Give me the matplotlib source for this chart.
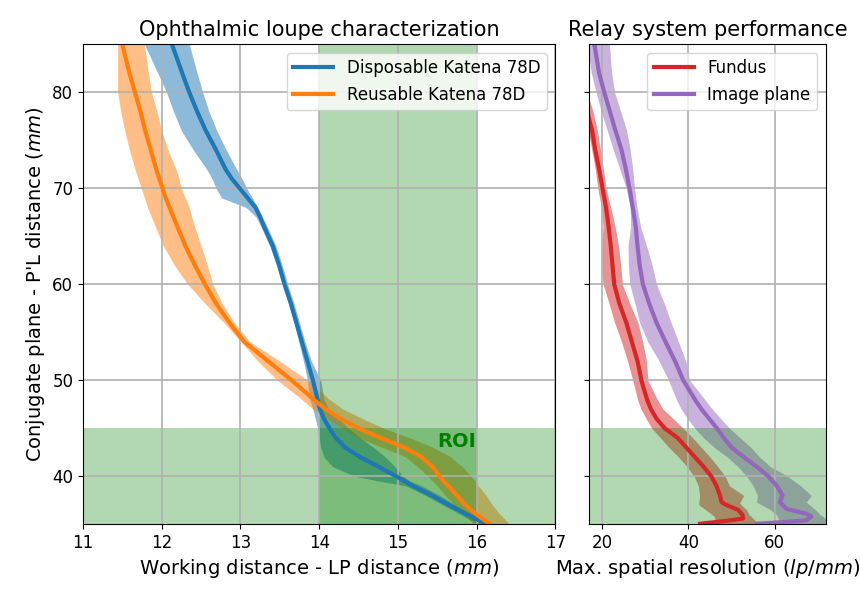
import numpy as np
import matplotlib
matplotlib.use('Agg')
from matplotlib import pyplot as plt

# ---- left panel: loupe characterization (x = working distance, y = conjugate plane)
y_loupe = [85, 82, 80, 78, 76, 74, 72, 71, 70, 69, 68, 67, 66, 64, 62, 60, 58, 56, 54, 52, 50,
           48, 47, 46, 45, 44, 43, 42, 41, 40, 39.5, 39, 38, 37, 36, 35]

disp_mid = [12.13, 12.26, 12.35, 12.45, 12.56, 12.69, 12.81, 12.89, 12.99, 13.09, 13.19, 13.25,
            13.30, 13.41, 13.49, 13.56, 13.64, 13.71, 13.78, 13.85, 13.92, 13.98, 14.01, 14.06,
            14.13, 14.21, 14.33, 14.52, 14.75, 14.98, 15.08, 15.19, 15.43, 15.65, 15.88, 16.13]
disp_lo = [11.78, 11.95, 12.06, 12.15, 12.25, 12.40, 12.57, 12.64, 12.69, 12.76, 13.07, 13.20,
           13.26, 13.37, 13.46, 13.53, 13.61, 13.68, 13.74, 13.80, 13.85, 13.88, 13.92, 13.95,
           13.98, 14.00, 14.02, 14.06, 14.17, 14.45, 14.75, 15.10, 15.35, 15.57, 15.80, 16.02]
disp_hi = [12.35, 12.45, 12.52, 12.60, 12.70, 12.82, 12.95, 13.02, 13.08, 13.15, 13.22, 13.28,
           13.34, 13.45, 13.53, 13.60, 13.68, 13.75, 13.82, 13.90, 14.02, 14.06, 14.12, 14.25,
           14.37, 14.52, 14.69, 14.84, 14.96, 15.07, 15.15, 15.30, 15.53, 15.73, 15.95, 16.20]

reus_mid = [11.50, 11.59, 11.66, 11.73, 11.79, 11.86, 11.93, 11.97, 12.01, 12.05, 12.10, 12.15,
            12.20, 12.30, 12.42, 12.55, 12.69, 12.86, 13.05, 13.35, 13.65, 13.93, 14.08, 14.27,
            14.50, 14.78, 15.08, 15.30, 15.44, 15.53, 15.58, 15.64, 15.75, 15.86, 16.00, 16.17]
reus_lo = [11.44, 11.44, 11.44, 11.48, 11.53, 11.59, 11.66, 11.70, 11.74, 11.78, 11.82, 11.87,
           11.92, 12.02, 12.16, 12.33, 12.55, 12.79, 13.01, 13.22, 13.47, 13.78, 13.92, 14.10,
           14.30, 14.50, 14.80, 15.10, 15.25, 15.38, 15.44, 15.50, 15.60, 15.72, 15.83, 15.97]
reus_hi = [11.78, 11.83, 11.87, 11.94, 12.00, 12.08, 12.18, 12.22, 12.25, 12.30, 12.35, 12.38,
           12.42, 12.50, 12.58, 12.65, 12.77, 12.92, 13.12, 13.50, 13.85, 14.13, 14.30, 14.55,
           14.82, 15.15, 15.45, 15.67, 15.82, 15.93, 15.98, 16.02, 16.12, 16.20, 16.30, 16.42]

# ---- right panel: relay system (x = max spatial resolution)
y_fund = [80, 78, 77, 76, 74, 72, 70, 68, 66, 64, 62, 60, 58, 56, 54, 52, 50, 48, 47, 46, 45,
          44, 43, 42, 41, 40, 39, 38, 37.3, 37, 36.5, 36, 35.6, 35.4, 35.2, 35.05]
fund_mid = [15.8, 16.6, 17.1, 17.7, 18.4, 19.3, 20.1, 20.9, 21.5, 22.0, 22.4, 22.8, 24.0, 25.6,
            26.9, 28.2, 29.1, 30.4, 31.3, 32.6, 34.5, 37.5, 39.5, 41.5, 43.5, 45.3, 46.5, 47.3,
            47.7, 48.8, 51.5, 52.5, 52.7, 49.6, 45.8, 42.7]

y_fund_band = [80, 78, 76, 74, 72, 70, 68, 66, 64, 62, 60, 58, 56, 54, 52, 50, 48, 47, 46, 45,
               44, 43, 42, 41, 40, 39, 38, 37.2, 37, 36.5, 36, 35.8, 35]
fund_lo = [14.0, 15.5, 16.8, 17.6, 18.4, 19.0, 19.8, 20.2, 19.9, 19.9, 20.2, 21.6, 22.9, 24.5,
           25.9, 27.1, 28.2, 29.0, 30.2, 31.5, 33.5, 35.5, 37.7, 39.7, 41.3, 42.3, 42.6, 42.4,
           42.5, 44.0, 45.5, 46.0, 46.5]
fund_hi = [16.5, 17.9, 18.9, 19.6, 20.3, 20.9, 22.0, 23.0, 23.8, 24.3, 24.7, 26.4, 28.3, 29.4,
           30.3, 30.6, 32.8, 34.1, 36.5, 38.8, 41.0, 43.0, 45.0, 46.8, 48.5, 49.5, 52.8, 51.9,
           52.3, 53.5, 54.0, 54.6, 56.2]

y_img = [85, 82, 80, 78, 76, 74, 72, 70, 68, 66, 64, 62, 60, 58, 56, 54, 52, 50, 48, 47, 46, 45,
         44, 43, 42, 41, 40, 39, 38, 37.3, 36.6, 36.1, 35.8, 35.4, 35.2, 35.05]
img_mid = [18.2, 19.3, 20.5, 21.8, 23.1, 24.5, 25.5, 26.35, 27.1, 27.8, 28.2, 28.7, 29.45, 30.9,
           32.6, 34.7, 36.9, 38.8, 41.5, 43.0, 44.8, 46.6, 48.2, 50.0, 52.8, 55.8, 58.5, 60.5,
           61.8, 61.2, 62.7, 67.3, 68.5, 67.3, 61.2, 55.8]

y_img_band = [85, 82, 80, 78, 76, 74, 72, 70, 68, 66, 64, 62, 60, 58, 56, 54, 52, 50, 48, 47,
              46, 45, 44, 43, 42, 41, 40, 39, 38, 37.3, 36.5, 36, 35.6, 35]
img_lo = [16.5, 17.5, 18.6, 19.8, 21.2, 22.6, 24.1, 25.6, 26.5, 26.6, 26.0, 26.1, 26.4, 27.6,
          28.7, 30.6, 33.2, 35.4, 37.2, 38.3, 39.8, 41.5, 43.5, 46.0, 49.0, 51.5, 53.5, 55.0,
          56.0, 55.8, 59.0, 60.4, 60.8, 61.2]
img_hi = [21.7, 22.2, 22.9, 24.3, 25.7, 26.5, 27.1, 27.5, 28.1, 28.9, 30.3, 31.6, 32.6, 34.4,
          36.0, 37.7, 39.4, 40.3, 43.8, 45.5, 47.5, 49.5, 52.0, 54.5, 56.5, 59.0, 63.0, 66.0,
          68.5, 67.3, 69.5, 70.5, 71.9, 73.0]

fig, (ax1, ax2) = plt.subplots(1, 2, sharey=True, figsize=(8.6, 5.91), dpi=100,
                               gridspec_kw={'width_ratios': [2, 1]})
fig.subplots_adjust(left=0.0965, right=0.960, bottom=0.113, top=0.925, wspace=0.096)

# bands first, then ROI shading, then the lines on top
ax1.fill_betweenx(y_loupe, disp_lo, disp_hi, color='tab:blue', alpha=0.5, lw=0)
ax1.fill_betweenx(y_loupe, reus_lo, reus_hi, color='tab:orange', alpha=0.5, lw=0)
ax1.axhspan(35, 45, color='green', alpha=0.3, lw=0)
ax1.axvspan(14, 16, color='green', alpha=0.3, lw=0)
ax1.plot(disp_mid, y_loupe, color='tab:blue', lw=3, label='Disposable Katena 78D')
ax1.plot(reus_mid, y_loupe, color='tab:orange', lw=3, label='Reusable Katena 78D')
ax1.text(15.5, 43.05, 'ROI', color='green', fontweight='bold', fontsize=14)

ax2.fill_betweenx(y_fund_band, fund_lo, fund_hi, color='tab:red', alpha=0.5, lw=0)
ax2.fill_betweenx(y_img_band, img_lo, img_hi, color='tab:purple', alpha=0.5, lw=0)
ax2.axhspan(35, 45, color='green', alpha=0.3, lw=0)
ax2.plot(fund_mid, y_fund, color='tab:red', lw=3, label='Fundus')
ax2.plot(img_mid, y_img, color='tab:purple', lw=3, label='Image plane')

ax1.set_xlim(11, 17)
ax1.set_ylim(35, 85)
ax2.set_xlim(17.05, 71.8)
ax1.set_xticks([11, 12, 13, 14, 15, 16, 17])
ax1.set_yticks([40, 50, 60, 70, 80])
ax2.set_xticks([20, 40, 60])

for ax in (ax1, ax2):
    ax.grid(True, color='#b0b0b0', lw=1.2)
    ax.tick_params(labelsize=12)
    ax.legend(loc='upper right', fontsize=12, handlelength=2.4)

ax1.set_title('Ophthalmic loupe characterization', fontsize=15)
ax2.set_title('Relay system performance', fontsize=15)
ax1.set_xlabel('Working distance - LP distance ($mm$)', fontsize=14)
ax1.set_ylabel("Conjugate plane - P'L distance ($mm$)", fontsize=14)
ax2.set_xlabel('Max. spatial resolution ($lp/mm$)', fontsize=14)

plt.savefig('out.png')
